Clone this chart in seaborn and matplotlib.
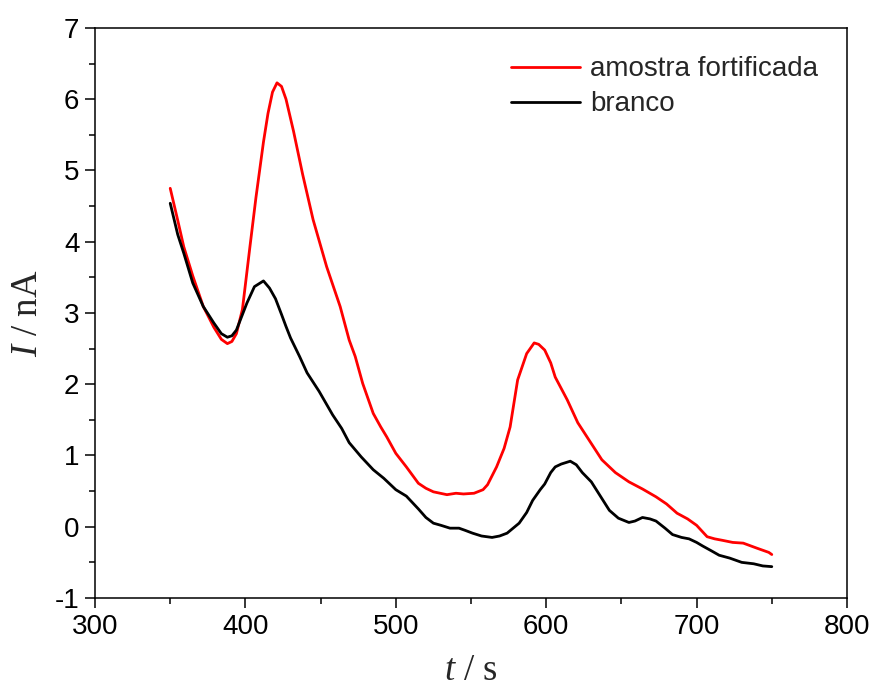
import matplotlib
matplotlib.use("Agg")
import matplotlib.pyplot as plt
from matplotlib.ticker import MultipleLocator
import numpy as np
import pandas as pd
import seaborn as sns

# Values
t_fort = [350, 355, 359, 365, 372, 379, 384, 388, 391, 394, 398, 403, 407, 412, 415,
          418, 421, 424, 427, 432, 438, 445, 454, 463, 469, 473, 478, 485, 490, 494,
          500, 507, 515, 520, 525, 534, 540, 545, 552, 558, 561, 567, 572, 576, 581,
          587, 592, 595, 599, 603, 606, 614, 621, 629, 637, 646, 655, 664, 673, 680,
          687, 694, 700, 707, 712, 717, 724, 731, 740, 748, 750]
i_fort = [4.75, 4.3, 3.93, 3.52, 3.09, 2.8, 2.63, 2.57, 2.6, 2.71, 3.05, 3.93, 4.62, 5.4, 5.8,
          6.1, 6.23, 6.18, 6.0, 5.55, 4.95, 4.31, 3.65, 3.09, 2.62, 2.39, 2.01, 1.59, 1.4, 1.26,
          1.03, 0.84, 0.61, 0.54, 0.49, 0.45, 0.47, 0.46, 0.47, 0.52, 0.59, 0.84, 1.1, 1.4, 2.06,
          2.43, 2.58, 2.56, 2.48, 2.3, 2.1, 1.78, 1.46, 1.2, 0.94, 0.76, 0.63, 0.53, 0.42, 0.32,
          0.19, 0.11, 0.02, -0.14, -0.17, -0.19, -0.22, -0.23, -0.3, -0.36, -0.39]

t_branco = [350, 355, 359, 365, 372, 379, 384, 388, 391, 394, 401, 406, 412, 416, 420,
            424, 427, 430, 436, 441, 449, 458, 464, 469, 477, 485, 492, 500, 507, 515,
            520, 525, 530, 536, 542, 546, 551, 557, 564, 569, 574, 578, 582, 587, 591,
            596, 599, 603, 606, 610, 616, 620, 624, 630, 636, 642, 648, 655, 659, 664,
            669, 673, 679, 684, 690, 695, 700, 704, 710, 715, 722, 730, 738, 744, 750]
i_branco = [4.54, 4.1, 3.84, 3.42, 3.09, 2.86, 2.71, 2.66, 2.68, 2.76, 3.14, 3.37, 3.45, 3.35, 3.2,
            2.98, 2.81, 2.65, 2.39, 2.16, 1.9, 1.57, 1.38, 1.18, 0.98, 0.8, 0.68, 0.52, 0.43, 0.25,
            0.13, 0.05, 0.02, -0.02, -0.02, -0.05, -0.09, -0.13, -0.15, -0.13, -0.09, -0.02, 0.05, 0.2, 0.37,
            0.52, 0.6, 0.76, 0.84, 0.88, 0.92, 0.87, 0.76, 0.63, 0.43, 0.23, 0.12, 0.06, 0.08, 0.13,
            0.11, 0.08, -0.02, -0.11, -0.15, -0.17, -0.22, -0.27, -0.34, -0.4, -0.44, -0.5, -0.52, -0.55, -0.56]

labels = ["amostra fortificada", "branco"]
colors = ["#ff0000", "#000000"]

df = pd.concat([
    pd.DataFrame({"t": t_fort, "I": i_fort, "amostra": labels[0]}),
    pd.DataFrame({"t": t_branco, "I": i_branco, "amostra": labels[1]}),
])

sns.set_style("ticks")
plt.rcParams["font.family"] = ["Liberation Sans", "DejaVu Sans"]
plt.rcParams["axes.unicode_minus"] = False
plt.rcParams["mathtext.fontset"] = "custom"
plt.rcParams["mathtext.it"] = "Liberation Serif:italic"
plt.rcParams["mathtext.rm"] = "Liberation Serif"

fig = plt.figure(figsize=(8.75, 6.91), dpi=100)
ax = fig.add_axes([0.1086, 0.1346, 0.8594, 0.8249])

sns.lineplot(data=df, x="t", y="I", hue="amostra", palette=dict(zip(labels, colors)),
             linewidth=2.0, sort=False, estimator=None, ax=ax)

ax.set_xlim(300, 800)
ax.set_ylim(-1, 7)
ax.xaxis.set_major_locator(MultipleLocator(100))
ax.xaxis.set_minor_locator(MultipleLocator(50))
ax.yaxis.set_major_locator(MultipleLocator(1))
ax.yaxis.set_minor_locator(MultipleLocator(0.5))
ax.tick_params(which="major", direction="out", length=7.2, width=1.1, labelsize=20,
               top=False, right=False, color="black", labelcolor="black", pad=4)
ax.tick_params(which="minor", direction="out", length=4.0, width=1.1,
               top=False, right=False, color="black")
for s in ax.spines.values():
    s.set_visible(True)
    s.set_linewidth(1.1)
    s.set_color("black")

ax.set_xlabel(r"$t$ / s", fontsize=26.5, family="Liberation Serif", labelpad=10)
ax.set_ylabel(r"$I$ / nA", fontsize=26.5, family="Liberation Serif", labelpad=7)

leg = ax.legend(loc="upper left", bbox_to_anchor=(0.553, 0.95), frameon=False,
                fontsize=20, handlelength=2.5, handletextpad=0.35, labelspacing=0.32,
                borderpad=0, borderaxespad=0)
for line in leg.get_lines():
    line.set_linewidth(2.0)

fig.savefig("out.png", dpi=100)
